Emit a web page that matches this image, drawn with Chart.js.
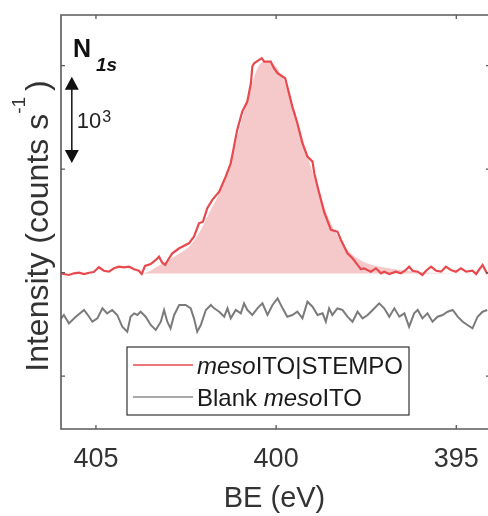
<!DOCTYPE html>
<html>
<head>
<meta charset="utf-8">
<script src="https://cdn.jsdelivr.net/npm/chart.js@4"></script>
<style>
  html, body { margin: 0; padding: 0; background: #fff; overflow: hidden; }
  #wrap { width: 488px; height: 516px; }
</style>
</head>
<body>
<div id="wrap"><canvas id="xps" width="488" height="516"></canvas></div>
<script>
// N 1s XPS region (binding energy, eV)
const xTicks = [405, 400, 395];
const yTicks = [0, 1200, 2400, 3600];

// mesoITO|STEMPO, measured
const stempoBE = [406.0,405.89,405.75,405.61,405.47,405.33,405.19,405.06,404.92,404.78,404.64,404.50,404.36,404.22,404.08,403.94,403.81,403.73,403.64,403.48,403.34,403.25,403.16,403.08,402.99,402.88,402.69,402.42,402.28,402.14,402.03,401.91,401.77,401.58,401.40,401.26,401.17,401.08,400.94,400.80,400.70,400.66,400.61,400.47,400.40,400.33,400.15,400.06,399.96,399.75,399.69,399.55,399.41,399.27,399.13,398.99,398.94,398.85,398.67,398.48,398.30,398.20,398.02,397.88,397.65,397.56,397.37,397.23,397.09,397.00,396.86,396.68,396.54,396.40,396.31,396.21,396.07,395.94,395.84,395.70,395.56,395.42,395.29,395.15,395.01,394.87,394.73,394.55,394.45,394.36,394.27,394.14];
const stempoCounts = [1191,1183,1172,1191,1198,1183,1198,1206,1261,1221,1210,1249,1268,1261,1268,1238,1221,1183,1276,1299,1346,1384,1314,1288,1354,1423,1481,1539,1616,1771,1790,1945,2042,2138,2312,2467,2660,2854,3066,3182,3395,3588,3627,3666,3685,3646,3646,3569,3511,3453,3356,3124,2931,2699,2544,2486,2351,2196,1906,1694,1674,1578,1423,1365,1240,1249,1210,1249,1191,1210,1183,1210,1191,1230,1268,1221,1210,1172,1221,1268,1221,1210,1268,1230,1210,1249,1210,1221,1183,1238,1288,1183];

// fitted N 1s component (shaded)
const fitBE = [403.75,403.53,403.25,402.83,402.42,402.14,401.86,401.58,401.31,401.03,400.75,400.53,400.33,400.14,399.92,399.64,399.36,399.08,398.81,398.53,398.25,397.97,397.69,397.42,397.00,396.58,396.03,395.19,394.14];
const fitCounts = [1189,1218,1288,1392,1508,1670,1902,2134,2436,2877,3294,3573,3654,3642,3550,3294,2912,2506,2158,1833,1601,1450,1357,1305,1264,1235,1212,1195,1189];
const fitBase = 1189;

// blank mesoITO, measured
const blankBE = [406.0,405.89,405.75,405.56,405.33,405.19,405.10,404.96,404.82,404.69,404.55,404.41,404.27,404.13,404.04,403.94,403.85,403.76,403.62,403.48,403.34,403.20,403.11,403.02,402.93,402.83,402.69,402.51,402.37,402.28,402.19,402.09,401.95,401.81,401.72,401.58,401.44,401.35,401.26,401.12,400.98,400.89,400.80,400.66,400.52,400.38,400.24,400.10,399.96,399.82,399.69,399.55,399.41,399.27,399.13,398.99,398.85,398.71,398.62,398.53,398.44,398.30,398.16,398.02,397.88,397.74,397.60,397.46,397.32,397.14,397.00,396.86,396.72,396.58,396.44,396.31,396.17,396.07,395.94,395.80,395.66,395.52,395.38,395.24,395.10,394.96,394.82,394.69,394.55,394.41,394.27,394.14];
const blankCounts = [650,708,611,688,766,688,630,669,785,727,766,708,572,514,688,727,708,746,688,592,534,630,766,630,553,708,824,824,785,669,514,592,766,824,785,746,688,785,669,766,727,843,766,708,785,843,708,824,901,785,688,708,746,669,862,804,708,727,630,785,708,785,766,688,630,746,669,708,766,843,785,688,785,688,727,572,727,766,669,727,630,688,708,746,766,688,630,592,553,688,746,766];

// scale bar: 10^3 counts s-1
const barBE = 405.67;
const barFrom = 2470;
const barSpan = 1000;

const FONT = '"Liberation Sans", Arial, sans-serif';
Chart.defaults.font.family = FONT;

const toPts = (be, c) => be.map((e, i) => ({ x: e, y: c[i] }));

// legend text with italic parts
const legendRows = [
  { color: '#e8494e', parts: [['meso', true], ['ITO|STEMPO', false]] },
  { color: '#8c8c8c', parts: [['Blank ', false], ['meso', true], ['ITO', false]] }
];

function richText(ctx, parts, x, y, size) {
  parts.forEach(([t, it]) => {
    ctx.font = (it ? 'italic ' : '') + size + 'px ' + FONT;
    ctx.fillText(t, x, y);
    x += ctx.measureText(t).width;
  });
}

const decor = {
  id: 'decor',
  afterDraw(chart) {
    const { ctx, chartArea: a } = chart;
    const xs = chart.scales.x, ys = chart.scales.y;
    ctx.save();

    // axes box (right edge falls just outside the picture)
    ctx.strokeStyle = '#595959';
    ctx.lineWidth = 1.6;
    ctx.beginPath();
    ctx.moveTo(a.right, a.top);
    ctx.lineTo(a.left, a.top);
    ctx.lineTo(a.left, a.bottom);
    ctx.lineTo(a.right, a.bottom);
    ctx.stroke();

    // inward ticks, mirrored
    ctx.lineWidth = 1.3;
    ctx.beginPath();
    xs.ticks.forEach(t => {
      const px = xs.getPixelForValue(t.value);
      ctx.moveTo(px, a.bottom); ctx.lineTo(px, a.bottom - 4);
      ctx.moveTo(px, a.top); ctx.lineTo(px, a.top + 4);
    });
    ys.ticks.forEach(t => {
      const py = ys.getPixelForValue(t.value);
      ctx.moveTo(a.left, py); ctx.lineTo(a.left + 4, py);
      ctx.moveTo(a.right, py); ctx.lineTo(a.right - 2, py);
    });
    ctx.stroke();

    // N 1s label
    ctx.fillStyle = '#111';
    ctx.textAlign = 'left';
    ctx.textBaseline = 'alphabetic';
    ctx.font = 'bold 25px ' + FONT;
    ctx.fillText('N', 73, 57);
    ctx.font = 'italic bold 19px ' + FONT;
    ctx.fillText('1s', 96, 71);

    // double arrow scale bar
    const bx = xs.getPixelForValue(barBE);
    const yb = ys.getPixelForValue(barFrom);
    const yt = ys.getPixelForValue(barFrom + barSpan);
    ctx.strokeStyle = '#111';
    ctx.lineWidth = 1.5;
    ctx.beginPath();
    ctx.moveTo(bx, yt + 10); ctx.lineTo(bx, yb - 10);
    ctx.stroke();
    ctx.beginPath();
    ctx.moveTo(bx, yt); ctx.lineTo(bx - 7, yt + 13); ctx.lineTo(bx + 7, yt + 13); ctx.closePath();
    ctx.moveTo(bx, yb); ctx.lineTo(bx - 7, yb - 13); ctx.lineTo(bx + 7, yb - 13); ctx.closePath();
    ctx.fill();
    const mid = (yt + yb) / 2;
    ctx.fillStyle = '#222';
    ctx.font = '22px ' + FONT;
    ctx.fillText('10', bx + 5, mid + 8);
    const w10 = ctx.measureText('10').width;
    ctx.font = '16px ' + FONT;
    ctx.fillText('3', bx + 6 + w10, mid + 2);

    // y axis title with superscript
    ctx.save();
    ctx.translate(48, 226);
    ctx.rotate(-Math.PI / 2);
    ctx.fillStyle = '#333';
    const main = 'Intensity (counts s';
    ctx.font = '32px ' + FONT;
    const wMain = ctx.measureText(main).width;
    ctx.font = '19px ' + FONT;
    const wSup = ctx.measureText('-1').width;
    ctx.font = '32px ' + FONT;
    const wPar = ctx.measureText(')').width;
    let tx = -(wMain + wSup + 6 + wPar) / 2;
    ctx.fillText(main, tx, 0);
    tx += wMain;
    ctx.font = '19px ' + FONT;
    ctx.fillText('-1', tx, -23);
    tx += wSup + 6;
    ctx.font = '32px ' + FONT;
    ctx.fillText(')', tx, 0);
    ctx.restore();

    // legend
    const lx = 127, ly = 347, lw = 282, lh = 68;
    ctx.fillStyle = '#fff';
    ctx.fillRect(lx, ly, lw, lh);
    ctx.strokeStyle = '#333';
    ctx.lineWidth = 1.2;
    ctx.strokeRect(lx, ly, lw, lh);
    legendRows.forEach((row, i) => {
      const cy = ly + 18 + i * 32;
      ctx.strokeStyle = row.color;
      ctx.lineWidth = 1.6;
      ctx.beginPath();
      ctx.moveTo(lx + 6, cy); ctx.lineTo(lx + 66, cy);
      ctx.stroke();
      ctx.fillStyle = '#1a1a1a';
      richText(ctx, row.parts, lx + 70, cy + 9, 24);
    });

    ctx.restore();
  }
};

new Chart(document.getElementById('xps'), {
  type: 'line',
  data: {
    datasets: [
      {
        label: 'mesoITO|STEMPO',
        data: toPts(stempoBE, stempoCounts),
        borderColor: '#e8494e',
        borderWidth: 2.2,
        pointRadius: 0,
        fill: false,
        order: 0
      },
      {
        label: 'N 1s fit',
        data: toPts(fitBE, fitCounts),
        borderColor: 'rgba(255,255,255,0.85)',
        borderWidth: 1.2,
        backgroundColor: 'rgba(242,182,184,0.75)',
        fill: { value: fitBase },
        cubicInterpolationMode: 'monotone',
        pointRadius: 0,
        order: 2
      },
      {
        label: 'Blank mesoITO',
        data: toPts(blankBE, blankCounts),
        borderColor: '#7b7b7b',
        borderWidth: 2,
        pointRadius: 0,
        fill: false,
        order: 1
      }
    ]
  },
  options: {
    responsive: false,
    animation: false,
    layout: { padding: { top: 15, right: 0, left: 0, bottom: 0 } },
    scales: {
      x: {
        type: 'linear',
        reverse: true,
        min: 394.12,
        max: 405.97,
        afterBuildTicks: s => { s.ticks = xTicks.map(v => ({ value: v })); },
        afterFit: s => { s.height = 87; s.paddingLeft = 0; s.paddingRight = 0; },
        grid: { display: false, drawTicks: false },
        border: { display: false },
        ticks: { font: { size: 27 }, color: '#333', padding: 14 },
        title: { display: true, text: 'BE (eV)', font: { size: 29 }, color: '#333', padding: { top: 0, bottom: 0 } }
      },
      y: {
        min: -614,
        max: 4186,
        afterBuildTicks: s => { s.ticks = yTicks.map(v => ({ value: v })); },
        afterFit: s => { s.width = 61; },
        grid: { display: false, drawTicks: false },
        border: { display: false },
        ticks: { display: false }
      }
    },
    plugins: { legend: { display: false }, tooltip: { enabled: false } }
  },
  plugins: [decor]
});
</script>
</body>
</html>
